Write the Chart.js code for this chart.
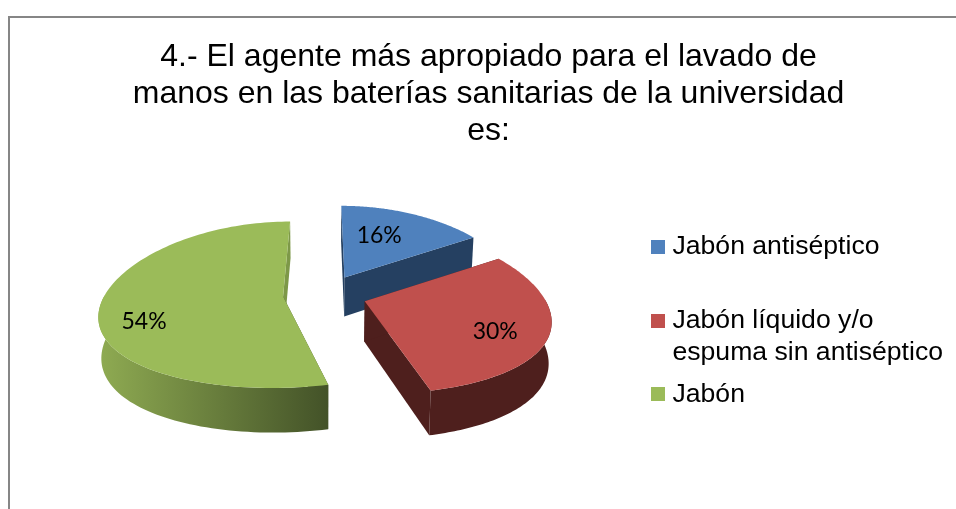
<!DOCTYPE html>
<html><head><meta charset="utf-8">
<style>
html,body{margin:0;padding:0;background:#fff;overflow:hidden}
#wrap{position:absolute;left:0;top:0;width:956px;height:509px}
#frame{position:absolute;left:8px;top:16px;width:960px;height:520px;border-left:2px solid #868686;border-top:2px solid #868686;pointer-events:none}
</style>
<script src="https://cdn.jsdelivr.net/npm/chart.js@4/dist/chart.umd.min.js"></script>
</head><body>
<div id="wrap"><canvas id="c" width="956" height="509"></canvas><div id="frame"></div></div>
<script>
const titleLines = ["4.- El agente más apropiado para el lavado de","manos en las baterías sanitarias de la universidad","es:"];
const categories = [["Jabón antiséptico",""],["Jabón líquido y/o","espuma sin antiséptico"],["Jabón"]];
const values = [16,30,54];
const topColors = ["#4f81bd","#c0504d","#9bbb59"];
const wallStart = ["#254061","#4e1f1d","#8fab52"];
const wallEnd = ["#254061","#4e1f1d","#435228"];
const radialStart = ["#254061","#4e1f1d","#435228"];
const radialEnd = ["#254061","#4e1f1d","#7d9848"];
const labelNudge = [[-16,5],[0,8],[-8,18]];

const view = {k:0.46, cx:0.2, cy:0.1, d:0.06, depth:40, centerX:325, centerY:294};

function proj(R,X,Z,h){
  const fx = 1/(1+view.cx*Z/R), fy = 1/(1+view.cy*Z/R);
  const g = 1/(1+view.d*h/R);
  return [view.centerX+X*fx*g, view.centerY-Z*view.k*fy+h*fy];
}
function pathOf(ctx,pts){ ctx.beginPath(); pts.forEach((p,i)=>i?ctx.lineTo(p[0],p[1]):ctx.moveTo(p[0],p[1])); ctx.closePath(); }

const pie3d = {
  id:'pie3d',
  beforeDatasetDraw(chart,args){
    const ctx = chart.ctx;
    const arcs = args.meta.data;
    [0,2,1].forEach(i=>{
      const a = arcs[i];
      const R = a.outerRadius;
      const s = a.startAngle+Math.PI/2, e = a.endAngle+Math.PI/2, m=(s+e)/2;
      const off = a.options.offset;
      const ox = off*Math.sin(m), oz = off*Math.cos(m);
      const n = 120, rim=[];
      for(let j=0;j<=n;j++){ const t=s+(e-s)*j/n; rim.push([ox+R*Math.sin(t),oz+R*Math.cos(t),Math.cos(t)]); }
      const top = rim.map(p=>proj(R,p[0],p[1],0));
      const bot = rim.map(p=>proj(R,p[0],p[1],view.depth));
      const apexT = proj(R,ox,oz,0), apexB = proj(R,ox,oz,view.depth);
      ctx.fillStyle = radialEnd[i];
      pathOf(ctx,[apexT,top[n],bot[n],apexB]); ctx.fill();
      ctx.fillStyle = radialStart[i];
      pathOf(ctx,[apexT,top[0],bot[0],apexB]); ctx.fill();
      const front = rim.map((p,j)=>j).filter(j=>rim[j][2]<0.02);
      if(front.length){
        const ft = front.map(j=>top[j]), fb = front.map(j=>bot[j]);
        const xs = ft.concat(fb).map(p=>p[0]);
        const g = ctx.createLinearGradient(Math.min(...xs),0,Math.max(...xs),0);
        g.addColorStop(0,wallStart[i]); g.addColorStop(1,wallEnd[i]);
        ctx.fillStyle = g;
        pathOf(ctx,ft.concat(fb.reverse())); ctx.fill();
      }
      ctx.fillStyle = a.options.backgroundColor;
      pathOf(ctx,[apexT].concat(top)); ctx.fill();
    });
    ctx.fillStyle = '#000';
    ctx.font = '23px Lato';
    ctx.textAlign='center'; ctx.textBaseline='middle';
    arcs.forEach((a,i)=>{
      const R=a.outerRadius;
      const m=(a.startAngle+a.endAngle)/2+Math.PI/2,off=a.options.offset;
      const r=R*0.72;
      const p=proj(R,(off+r)*Math.sin(m),(off+r)*Math.cos(m),0);
      ctx.fillText(values[i]+'%',p[0]+labelNudge[i][0],p[1]+labelNudge[i][1]);
    });
    return false;
  }
};

function swatch(color){
  const c=document.createElement('canvas'); c.width=14; c.height=14;
  const x=c.getContext('2d'); x.fillStyle=color; x.fillRect(0,0,14,14);
  return c;
}
const swatches = topColors.map(swatch);

new Chart(document.getElementById('c'),{
  type:'pie',
  plugins:[pie3d],
  data:{labels:categories,datasets:[{data:values,backgroundColor:topColors,borderWidth:0,offset:42,radius:178}]},
  options:{
    responsive:false,animation:false,
    layout:{padding:{left:24,right:3,top:20,bottom:86}},
    plugins:{
      tooltip:{enabled:false},
      title:{display:true,text:titleLines,color:'#000',fullSize:true,
        font:{family:'"Liberation Sans"',size:32,weight:'normal',lineHeight:1.156},padding:{top:19,bottom:10}},
      legend:{position:'right',align:'end',
        labels:{boxWidth:14,boxHeight:14,color:'#000',padding:10,usePointStyle:true,pointStyleWidth:1.4,
          font:{family:'"Liberation Sans"',size:26.6,lineHeight:1.2},
          generateLabels(chart){
            return Chart.overrides.pie.plugins.legend.labels.generateLabels(chart)
              .map((it,i)=>Object.assign(it,{pointStyle:swatches[i]}));
          }}}
    }
  }
});
</script>
</body></html>
